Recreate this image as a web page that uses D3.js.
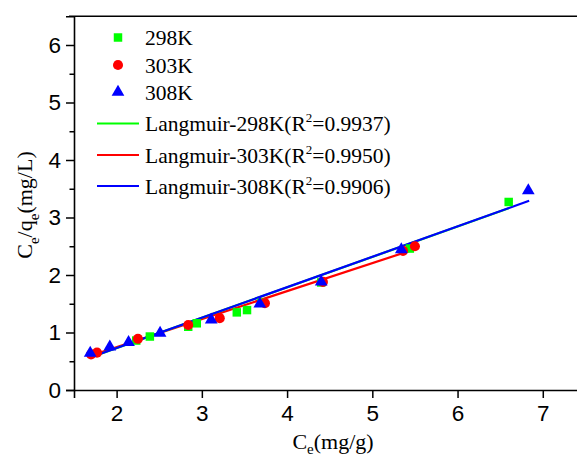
<!DOCTYPE html>
<html><head><meta charset="utf-8">
<script src="https://cdn.jsdelivr.net/npm/d3@7/dist/d3.min.js"></script>
<style>body{margin:0;background:#fff}svg{display:block}</style>
</head><body>
<script>
// Data
const x298 = [2.23, 2.39, 2.84, 2.94, 3.41, 3.53, 3.70, 4.40, 5.44, 6.60];
const y298 = [0.86, 0.93, 1.10, 1.16, 1.35, 1.39, 1.52, 1.87, 2.46, 3.27];
const x303 = [1.70, 1.77, 2.25, 2.84, 3.21, 3.74, 4.42, 5.36, 5.50];
const y303 = [0.62, 0.65, 0.89, 1.13, 1.25, 1.51, 1.88, 2.42, 2.50];
const x308 = [1.69, 1.92, 2.14, 2.51, 3.11, 3.68, 4.40, 5.34, 6.83];
const y308 = [0.64, 0.75, 0.83, 0.99, 1.22, 1.50, 1.88, 2.44, 3.47];
const fitX298 = [1.70, 6.60], fitY298 = [0.57, 3.16];
const fitX303 = [1.70, 5.50], fitY303 = [0.60, 2.45];
const fitX308 = [1.68, 6.84], fitY308 = [0.56, 3.29];
const xTicks = [2, 3, 4, 5, 6, 7];
const yTicks = [0, 1, 2, 3, 4, 5, 6];
const yMinor = [0.5, 1.5, 2.5, 3.5, 4.5, 5.5];
const legendLabels = ["298K", "303K", "308K"];
const fitLabels = [["298K", "0.9937"], ["303K", "0.9950"], ["308K", "0.9906"]];
const colors = ["#00ff00", "#ff0000", "#0000ff"];

const W = 577, H = 457;
const svg = d3.select("body").append("svg").attr("width", W).attr("height", H);
const x = d3.scaleLinear().domain([1.5, 7.5]).range([74, 585.4]);
const y = d3.scaleLinear().domain([0, 6.5]).range([390, 16.25]);

// frame
svg.append("line").attr("x1", 69).attr("x2", 600).attr("y1", y(6.5)).attr("y2", y(6.5))
  .attr("stroke", "#000").attr("stroke-width", 1.6);

const sans = "Liberation Sans, Arial, sans-serif";
svg.append("g").attr("transform", "translate(0,390)")
  .call(d3.axisBottom(x).tickValues(xTicks).tickSize(8).tickPadding(7).tickFormat(d3.format("d")));
svg.append("g").attr("transform", "translate(74,0)")
  .call(d3.axisLeft(y).tickValues(yTicks).tickSize(8).tickPadding(5).tickFormat(d3.format("d")));
svg.append("g").attr("transform", "translate(74,0)")
  .call(d3.axisLeft(y).tickValues(yMinor).tickSize(4.5).tickFormat(""))
  .select(".domain").remove();
svg.selectAll(".domain").attr("stroke-width", 1.6);
svg.selectAll(".tick line").attr("stroke-width", 1.5);
svg.selectAll(".tick text").attr("font-family", sans).attr("font-size", 22.5).attr("fill", "#000");

// fit lines
const fits = [[fitX298, fitY298], [fitX303, fitY303], [fitX308, fitY308]];
const order = [1, 0, 2];
order.forEach(i => {
  const [fx, fy] = fits[i];
  svg.append("line").attr("x1", x(fx[0])).attr("y1", y(fy[0])).attr("x2", x(fx[1])).attr("y2", y(fy[1]))
    .attr("stroke", colors[i]).attr("stroke-width", 2.2);
});

// markers
const sq = d3.symbol().type(d3.symbolSquare).size(72);
const ci = d3.symbol().type(d3.symbolCircle).size(80);
const tr = d3.symbol().type(d3.symbolTriangle).size(70);
function drawPts(xs, ys, sym, c) {
  svg.append("g").selectAll("path").data(xs.map((v, i) => [v, ys[i]])).join("path")
    .attr("d", sym).attr("fill", c)
    .attr("transform", d => `translate(${x(d[0])},${y(d[1])})`);
}
drawPts(x298, y298, sq, colors[0]);
drawPts(x303, y303, ci, colors[1]);
drawPts(x308, y308, tr, colors[2]);

// legend
const serif = "Liberation Serif, Times New Roman, serif";
const syms = [sq, ci, tr];
const symY = [37.5, 65, 92];
const fs = 21.5;
legendLabels.forEach((t, i) => {
  svg.append("path").attr("d", syms[i]).attr("fill", colors[i])
    .attr("transform", `translate(118,${symY[i]})`);
  svg.append("text").attr("x", 145).attr("y", symY[i] + 7.5).attr("font-family", serif)
    .attr("font-size", fs).text(t);
});
const lineY = [123.5, 155, 186];
fitLabels.forEach((f, i) => {
  svg.append("line").attr("x1", 97).attr("x2", 139).attr("y1", lineY[i]).attr("y2", lineY[i])
    .attr("stroke", colors[i]).attr("stroke-width", 2);
  const t = svg.append("text").attr("x", 145).attr("y", lineY[i] + 7.5).attr("font-family", serif)
    .attr("font-size", fs);
  t.append("tspan").text(`Langmuir-${f[0]}(R`);
  t.append("tspan").attr("dy", -9).attr("font-size", 13).text("2");
  t.append("tspan").attr("dy", 9).text(`=${f[1]})`);
});

// axis titles
const xt = svg.append("text").attr("x", 333).attr("y", 449).attr("text-anchor", "middle")
  .attr("font-family", serif).attr("font-size", 22);
xt.append("tspan").text("C");
xt.append("tspan").attr("dy", 5).attr("font-size", 15).text("e");
xt.append("tspan").attr("dy", -5).text("(mg/g)");

const yt = svg.append("text").attr("transform", "translate(32,205) rotate(-90)").attr("text-anchor", "middle")
  .attr("font-family", serif).attr("font-size", 22);
yt.append("tspan").text("C");
yt.append("tspan").attr("dy", 7).attr("font-size", 15).text("e");
yt.append("tspan").attr("dy", -7).text("/q");
yt.append("tspan").attr("dy", 7).attr("font-size", 15).text("e");
yt.append("tspan").attr("dy", -7).text("(mg/L)");
</script>
</body></html>
